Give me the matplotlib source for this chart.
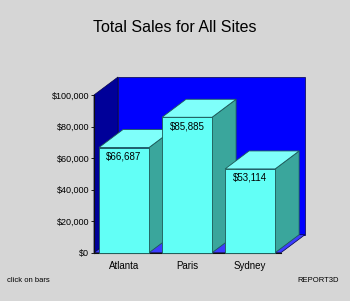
import matplotlib
matplotlib.use("Agg")
import matplotlib.pyplot as plt
from matplotlib.patches import Polygon
from matplotlib.ticker import FuncFormatter

# data
sites = ["Atlanta", "Paris", "Sydney"]
sales = [66687, 85885, 53114]
yticks = [0, 20000, 40000, 60000, 80000, 100000]

plt.rcParams["font.family"] = ["Liberation Sans", "DejaVu Sans"]

bg = "#d6d6d6"
fig = plt.figure(figsize=(3.5, 3.01), dpi=100, facecolor=bg)
ax = fig.add_axes([94 / 350, 48.3 / 301, 187 / 350, 157.7 / 301])
ax.set_xlim(-0.476, 2.49)
ax.set_ylim(0, 100000)
ax.patch.set_visible(False)

# depth of the 3d box in data units (about 24 px right, 18 px up)
dx = 24 / 63
dy = 18 / 157.7 * 100000
x0, x1 = ax.get_xlim()
y0, y1 = ax.get_ylim()

# walls and floor
walls = [
    ([(x0 + dx, y0 + dy), (x1 + dx, y0 + dy), (x1 + dx, y1 + dy), (x0 + dx, y1 + dy)], "#0000ff"),
    ([(x0, y0), (x0 + dx, y0 + dy), (x0 + dx, y1 + dy), (x0, y1)], "#000099"),
    ([(x0, y0), (x1, y0), (x1 + dx, y0 + dy), (x0 + dx, y0 + dy)], "#3c3cff"),
]
for pts, c in walls:
    ax.add_patch(Polygon(pts, closed=True, fc=c, ec="#00004a", lw=0.5,
                         clip_on=False, zorder=1))

# bars
w = 50 / 63
edge = "#1d5a56"
for i, v in enumerate(sales):
    z = 3 + i * 3
    xl, xr = i - w / 2, i + w / 2
    side = [(xr, 0), (xr + dx, dy), (xr + dx, v + dy), (xr, v)]
    top = [(xl, v), (xr, v), (xr + dx, v + dy), (xl + dx, v + dy)]
    ax.add_patch(Polygon(side, closed=True, fc="#3aa69c", ec=edge, lw=0.6,
                         clip_on=False, zorder=z))
    ax.add_patch(Polygon(top, closed=True, fc="#7ffffa", ec=edge, lw=0.6,
                         clip_on=False, zorder=z + 1))
    ax.bar(i, v, width=w, color="#62fff6", edgecolor=edge, linewidth=0.6,
           zorder=z + 2, clip_on=False)
    ax.annotate(f"${v:,}", (i, v), xytext=(0, -6.5), textcoords="offset points",
                ha="center", va="center", fontsize=7, zorder=z + 2)

ax.set_yticks(yticks)
ax.yaxis.set_major_formatter(FuncFormatter(lambda val, pos: f"${int(val):,}"))
ax.set_xticks(range(len(sites)))
ax.set_xticklabels(sites)
ax.tick_params(axis="y", length=2.5, width=0.6, pad=1, labelsize=6.5)
ax.tick_params(axis="x", length=0, pad=6, labelsize=7)
for s in ["top", "right"]:
    ax.spines[s].set_visible(False)
for s in ["left", "bottom"]:
    ax.spines[s].set_linewidth(0.8)
    ax.spines[s].set_color("#101010")
    ax.spines[s].set_zorder(2)

fig.text(0.5, 1 - 27 / 301, "Total Sales for All Sites", ha="center", va="center",
         fontsize=11.5)
fig.text(7 / 350, 1 - 281 / 301, "click on bars", ha="left", va="center", fontsize=5.5)
fig.text(339 / 350, 1 - 281 / 301, "REPORT3D", ha="right", va="center", fontsize=5.5)

fig.savefig("out.png", dpi=100, facecolor=bg)
